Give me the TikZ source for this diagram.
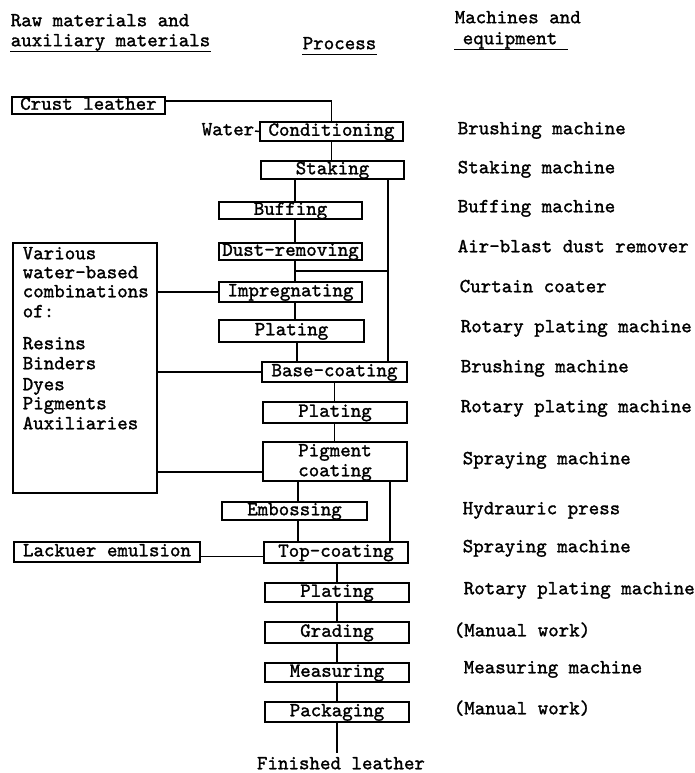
\documentclass[tikz,border=0pt]{standalone}
\usepackage{fontspec}
% typewriter face, emboldened
\newfontfamily\tw{lmmono10-regular.otf}[FakeBold=1.4]
\begin{document}
\begin{tikzpicture}[x=1pt,y=-1pt,line width=1.5pt,
  txt/.style={font=\tw\fontsize{20}{22}\selectfont, inner sep=0pt,
              text height=11pt, text depth=2.5pt},
  box/.style={txt, draw, line width=1.5pt},
  lbl/.style={txt, anchor=west},
  hdr/.style={txt, anchor=west}]
\useasboundingbox (0,0) rectangle (694,773);

% column headings
\node[hdr] (hraw)  at (10,22)  {Raw materials and};
\node[hdr] (haux)  at (10,42)  {auxiliary materials};
\node[hdr] (hproc) at (302,45) {Process};
\node[hdr] (hmach) at (454,19) {Machines and};
\node[hdr] (hequ)  at (462,40) {equipment};
\draw[line width=1.2pt] ([yshift=-5pt]haux.base west) -- ([yshift=-5pt]haux.base east);
\draw[line width=1.2pt] ([yshift=-5pt]hproc.base west) -- ([yshift=-5pt]hproc.base east);
\draw[line width=1.2pt] ([xshift=-8pt,yshift=-5pt]hequ.base west) -- ([xshift=10pt,yshift=-5pt]hequ.base east);

% process boxes
\node[box,minimum width=153pt,minimum height=17pt] (crust) at (88.5,105.5) {Crust leather};
\node[box,minimum width=143pt,minimum height=19pt] (cond)  at (331.5,131.5) {Conditioning};
\node[box,minimum width=143pt,minimum height=18pt] (stak)  at (332.5,170) {Staking};
\node[box,minimum width=143pt,minimum height=17pt] (buff)  at (290.5,210.5) {Buffing};
\node[box,minimum width=143pt,minimum height=17pt] (dust)  at (290.5,251.5) {Dust-removing};
\node[box,minimum width=143pt,minimum height=20pt] (impr)  at (290.5,292) {Impregnating};
\node[box,minimum width=145pt,minimum height=22pt] (plat1) at (291.5,331) {Plating};
\node[box,minimum width=145pt,minimum height=20pt] (base)  at (334.5,372) {Base-coating};
\node[box,minimum width=144pt,minimum height=21pt] (plat2) at (335,412.5) {Plating};
\node[box,minimum width=144pt,minimum height=39pt] (pigm)  at (335,461.5) {};
\node[txt] (pigt1) at (335,452) {Pigment};
\node[txt] (pigt2) at (335,472) {coating};
\node[box,minimum width=145pt,minimum height=18pt] (embo)  at (294.5,511) {Embossing};
\node[box,minimum width=144pt,minimum height=21pt] (topc)  at (336,552.5) {Top-coating};
\node[box,minimum width=144pt,minimum height=19pt] (plat3) at (337,592.5) {Plating};
\node[box,minimum width=144pt,minimum height=21pt] (grad)  at (337,632.5) {Grading};
\node[box,minimum width=144pt,minimum height=19pt] (meas)  at (337,672.5) {Measuring};
\node[box,minimum width=144pt,minimum height=20pt] (pack)  at (337,712) {Packaging};

% material boxes
\node[box,minimum width=144pt,minimum height=250pt] (various) at (85,368) {};
\node[box,minimum width=186pt,minimum height=20pt] (lack) at (107,552) {Lackuer emulsion};
\foreach \t/\yy [count=\i] in {Various/255, water-based/274, combinations/293, of:/313,
    Resins/345, Binders/365, Dyes/386, Pigments/405, Auxiliaries/425}
  \node[lbl] (vt\i) at (22,\yy) {\t};

% inputs
\node[lbl,anchor=east] (water) at (255,131) {Water};
\node[txt] (finl) at (341,765) {Finished leather};

% machines and equipment
\node[lbl] (m1)  at (457,130) {Brushing machine};
\node[lbl] (m2)  at (457,169) {Staking machine};
\node[lbl] (m3)  at (457,208) {Buffing machine};
\node[lbl] (m4)  at (457,248) {Air-blast dust remover};
\node[lbl] (m5)  at (459,288) {Curtain coater};
\node[lbl] (m6)  at (460,328) {Rotary plating machine};
\node[lbl] (m7)  at (460,368) {Brushing machine};
\node[lbl] (m8)  at (460,408) {Rotary plating machine};
\node[lbl] (m9)  at (462,460) {Spraying machine};
\node[lbl] (m10) at (462,510) {Hydrauric press};
\node[lbl] (m11) at (462,548) {Spraying machine};
\node[lbl] (m12) at (463,590) {Rotary plating machine};
\node[lbl] (m13) at (453,632) {(Manual work)};
\node[lbl] (m14) at (463,669) {Measuring machine};
\node[lbl] (m15) at (453,710) {(Manual work)};

% x positions of the vertical flow lines
\coordinate (sA) at (295,0);
\coordinate (sB) at (297,0);
\coordinate (sR) at (388,0);
\coordinate (sC) at (334.5,0);
\coordinate (sD) at (298,0);
\coordinate (sE) at (390,0);
\coordinate (sF) at (337,0);
\coordinate (jn) at (295,271);
\coordinate (fin) at (337,753);

% flow connectors
\draw ([yshift=4.5pt]crust.east) -| (cond.north);
\draw (water.east) -- (cond.west);
\draw (cond.south) -- (cond.south |- stak.north);
\draw (stak.south -| sA) -- (buff.north -| sA);
\draw (buff.south -| sA) -- (dust.north -| sA);
\draw (dust.south -| sA) -- (impr.north -| sA);
\draw (jn) -- (jn -| sR);
\draw (stak.south -| sR) -- (base.north -| sR);
\draw (impr.south -| sA) -- (plat1.north -| sA);
\draw (plat1.south -| sB) -- (base.north -| sB);
\draw (base.south -| sC) -- (plat2.north -| sC);
\draw (plat2.south -| sC) -- (pigm.north -| sC);
\draw (pigm.south -| sD) -- (embo.north -| sD);
\draw (embo.south -| sD) -- (topc.north -| sD);
\draw (pigm.south -| sE) -- (topc.north -| sE);
\draw (topc.south -| sF) -- (plat3.north -| sF);
\draw (plat3.south -| sF) -- (grad.north -| sF);
\draw (grad.south -| sF) -- (meas.north -| sF);
\draw (meas.south -| sF) -- (pack.north -| sF);
\draw (pack.south -| sF) -- (fin);

% material feeds
\draw (various.east |- impr.west) -- (impr.west);
\draw (various.east |- base.west) -- (base.west);
\draw ([yshift=-10.5pt]pigm.west) -- ([yshift=-10.5pt]pigm.west -| various.east);
\draw ([yshift=-4.5pt]lack.east) -- ([yshift=-4.5pt]lack.east -| topc.west);
\end{tikzpicture}
\end{document}
